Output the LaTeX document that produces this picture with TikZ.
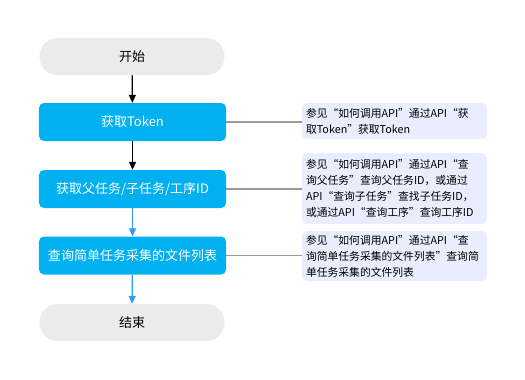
\documentclass[tikz,border=0pt]{standalone}
\usepackage{fontspec}
\setmainfont{Noto Sans CJK SC}
\usetikzlibrary{arrows.meta}
\definecolor{mainblue}{HTML}{00B0F0}
\definecolor{pillgray}{HTML}{EBEBEB}
\definecolor{notefill}{HTML}{E8EEFD}
\definecolor{arrowblue}{HTML}{3399FF}
\definecolor{linegray}{HTML}{999999}
\tikzset{
  pill/.style={draw=none, fill=pillgray, rounded corners=18bp, minimum width=185bp, minimum height=37bp, inner sep=0pt, font=\fontsize{13bp}{15bp}\selectfont, text=black},
  mainbox/.style={draw=none, fill=mainblue, rounded corners=5bp, minimum width=187bp, minimum height=38bp, inner sep=0pt, font=\fontsize{13bp}{15bp}\selectfont, text=white},
  notebox/.style={draw=none, fill=notefill, rounded corners=5bp, minimum width=185bp, inner xsep=4bp, inner ysep=0pt, align=left, text width=177bp, font=\fontsize{10.8bp}{16bp}\selectfont, text=black},
  blackarrow/.style={draw=black, line width=1.2bp, -{Triangle[width=7bp,length=8bp]}},
  bluearrow/.style={draw=arrowblue, line width=1.2bp, -{Triangle[width=7bp,length=8bp]}},
  noteline/.style={draw=linegray, line width=1.2bp}
}
\begin{document}
\begin{tikzpicture}[x=1bp,y=-1bp]
\useasboundingbox (0,0) rectangle (525,379);
\node[pill] (start) at (132,56.5) {开始};
\node[mainbox] (token) at (132.5,122) {获取Token};
\node[mainbox] (ids) at (132.5,189) {获取父任务/子任务/工序ID};
\node[mainbox] (query) at (132.5,255.5) {查询简单任务采集的文件列表};
\node[pill] (end) at (132,322.5) {结束};

\node[notebox, minimum height=36bp] (note1) at (394.5,121) {参见“如何调用API”通过API“获\\取Token”获取Token};
\node[notebox, minimum height=71bp] (note2) at (394.5,188.5) {参见“如何调用API”通过API“查\\询父任务”查询父任务ID，或通过\\API“查询子任务”查找子任务ID，\\或通过API“查询工序”查询工序ID};
\node[notebox, minimum height=50bp] (note3) at (394.5,256) {参见“如何调用API”通过API“查\\询简单任务采集的文件列表”查询简\\单任务采集的文件列表};

\draw[blackarrow] (start) -- (token);
\draw[blackarrow] (token) -- (ids);
\draw[bluearrow] (ids) -- (query);
\draw[bluearrow] (query) -- (end);

\draw[noteline] (token.east) -- (token.east -| note1.west);
\draw[noteline] (ids.east) -- (ids.east -| note2.west);
\draw[noteline] (query.east) -- (query.east -| note3.west);
\end{tikzpicture}
\end{document}
